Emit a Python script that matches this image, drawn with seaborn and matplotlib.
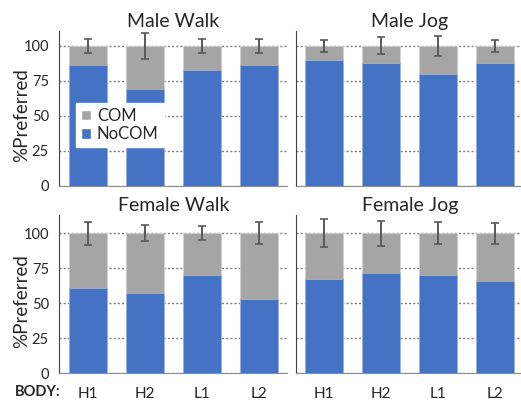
import pandas as pd
import numpy as np
import matplotlib.pyplot as plt
import seaborn as sns
from matplotlib.patches import Patch

sns.set_style("white")
plt.rcParams["font.family"] = ["Lato", "DejaVu Sans"]

# datos (% que prefiere NoCOM, y error en la barra total)
bodies = ["H1", "H2", "L1", "L2"]
paneles = ["Male Walk", "Male Jog", "Female Walk", "Female Jog"]

male_walk_nocom = [86, 69, 83, 86]
male_jog_nocom = [90, 87.5, 79.5, 87.5]
female_walk_nocom = [61, 57.5, 70, 53]
female_jog_nocom = [67, 71.5, 70, 66]

male_walk_err = [5, 9.3, 5, 5]
male_jog_err = [4.3, 6.2, 7, 4.3]
female_walk_err = [8.2, 5.7, 4.8, 7.9]
female_jog_err = [10, 8.8, 7.8, 7.6]

nocom_vals = [male_walk_nocom, male_jog_nocom, female_walk_nocom, female_jog_nocom]
err_vals = [male_walk_err, male_jog_err, female_walk_err, female_jog_err]

filas = []
for p, nc, er in zip(paneles, nocom_vals, err_vals):
    for b, v, e in zip(bodies, nc, er):
        filas.append({"panel": p, "body": b, "nocom": v, "total": 100, "err": e})
df = pd.DataFrame(filas)

azul = "#4472C4"
gris = "#A5A5A5"

fig = plt.figure(figsize=(5.21, 4.01), dpi=100)
W, H = 521, 401
# posiciones en pixeles: (izq, arriba, ancho, alto)
cajas = [(59.3, 31, 228, 154.7), (295.7, 31, 228, 154.7),
         (59.3, 215, 228, 158.2), (295.7, 215, 228, 158.2)]
ylims = [110.5, 110.5, 113, 113]

for i, p in enumerate(paneles):
    x0, y0, w, h = cajas[i]
    ax = fig.add_axes([x0 / W, 1 - (y0 + h) / H, w / W, h / H])
    sub = df[df["panel"] == p]
    sns.barplot(data=sub, x="body", y="total", color=gris, width=0.67,
                saturation=1, errorbar=None, edgecolor="#D0D0D0", linewidth=0.6, ax=ax)
    sns.barplot(data=sub, x="body", y="nocom", color=azul, width=0.67,
                saturation=1, errorbar=None, edgecolor="#9DB3E0", linewidth=0.6, ax=ax)
    ax.errorbar(np.arange(len(bodies)), sub["total"], yerr=sub["err"], fmt="none",
                ecolor="#595959", elinewidth=1.4, capsize=3, capthick=1.2, zorder=5)
    ax.set_xlim(-0.5, 3.5)
    ax.set_ylim(0, ylims[i])
    ax.set_yticks([0, 25, 50, 75, 100])
    ax.yaxis.grid(True, linestyle=(0, (1.5, 1.5)), color="#7F7F7F", linewidth=1)
    ax.set_axisbelow(True)
    for s in ["top", "right"]:
        ax.spines[s].set_visible(False)
    ax.spines["left"].set_color("#404040")
    ax.spines["bottom"].set_color("#8C8C8C")
    ax.tick_params(length=0, labelsize=10.5, pad=7.5)
    ax.set_title(p, fontsize=14, pad=3)
    ax.set_xlabel("")
    if i % 2 == 0:
        ax.set_ylabel("%Preferred", fontsize=13.5)
        ax.yaxis.set_label_coords(-0.128, 0.456)
    else:
        ax.set_ylabel("")
        ax.set_yticklabels([])
    if i < 2:
        ax.set_xticklabels([])
    else:
        ax.tick_params(axis="x", labelsize=11, pad=10)
    if i == 0:
        handles = [Patch(facecolor=gris, label="COM"), Patch(facecolor=azul, label="NoCOM")]
        ax.legend(handles=handles, loc="upper left", bbox_to_anchor=(0.073, 0.535),
                  borderaxespad=0, frameon=True, framealpha=1, edgecolor="white",
                  fancybox=False, fontsize=12, handlelength=0.6, handleheight=0.6,
                  handletextpad=0.35, borderpad=0.3, labelspacing=0.15)

fig.text(15 / W, 1 - 392 / H, "BODY:", fontsize=10.5, fontweight="bold", va="center", ha="left")

fig.savefig("out.png", dpi=100)
